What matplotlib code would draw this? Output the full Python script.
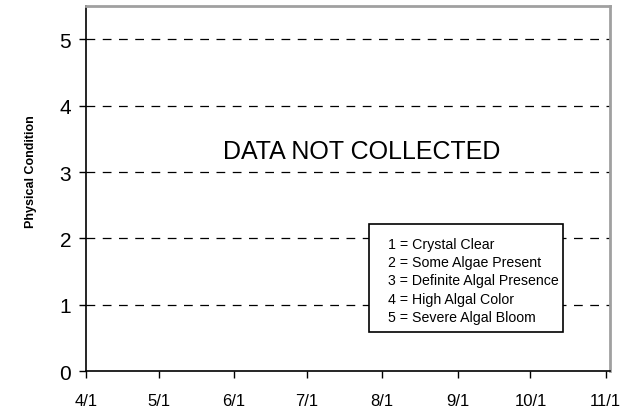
import matplotlib
matplotlib.use("Agg")
import matplotlib.pyplot as plt
import matplotlib.dates as mdates
from matplotlib.patches import Rectangle
import datetime as dt

plt.rcParams['font.family'] = ['Liberation Sans', 'DejaVu Sans']

tick_dates = [dt.date(2000, m, 1) for m in range(4, 12)]
tick_labels = ["4/1", "5/1", "6/1", "7/1", "8/1", "9/1", "10/1", "11/1"]
y_ticks = [0, 1, 2, 3, 4, 5]
grid_levels = [1, 2, 3, 4, 5]
legend_lines = ["1 = Crystal Clear", "2 = Some Algae Present", "3 = Definite Algal Presence",
                "4 = High Algal Color", "5 = Severe Algal Bloom"]

fig = plt.figure(figsize=(6.4, 4.14), dpi=100)
ax = fig.add_axes([0.134, 0.101, 0.819, 0.882])

ax.set_xlim(mdates.date2num(tick_dates[0]), mdates.date2num(tick_dates[-1]) + 1.7)
ax.set_ylim(0, 5.5)
ax.set_xticks([mdates.date2num(d) for d in tick_dates])
ax.set_xticklabels(tick_labels, fontsize=12)
ax.set_yticks(y_ticks)
ax.set_yticklabels([str(v) for v in y_ticks], fontsize=15)
ax.tick_params(axis='x', length=5, width=1, pad=11)
ax.tick_params(axis='y', length=5, width=1, pad=5.5)

for lv in grid_levels:
    ax.axhline(lv, color='black', lw=0.9, linestyle=(0, (7, 6)))

for s in ['left', 'bottom']:
    ax.spines[s].set_color('black')
    ax.spines[s].set_linewidth(1.2)
for s in ['top', 'right']:
    ax.spines[s].set_color('#a0a0a0')
    ax.spines[s].set_linewidth(2)

ax.set_ylabel("Physical Condition", fontsize=9, fontweight='bold')
ax.yaxis.set_label_coords(-0.093, 0.548)

ax.text(0.527, 0.603, "DATA NOT COLLECTED", transform=ax.transAxes,
        ha='center', va='center', fontsize=18)

ax.add_patch(Rectangle((0.540, 0.107), 0.370, 0.296, transform=ax.transAxes,
                       facecolor='white', edgecolor='black', lw=1.2, zorder=5))
line_y = [0.348, 0.299, 0.249, 0.197, 0.148]
for txt, yy in zip(legend_lines, line_y):
    ax.text(0.576, yy, txt, transform=ax.transAxes, ha='left', va='center',
            fontsize=10.2, zorder=6)

fig.savefig("out.png", dpi=100)
